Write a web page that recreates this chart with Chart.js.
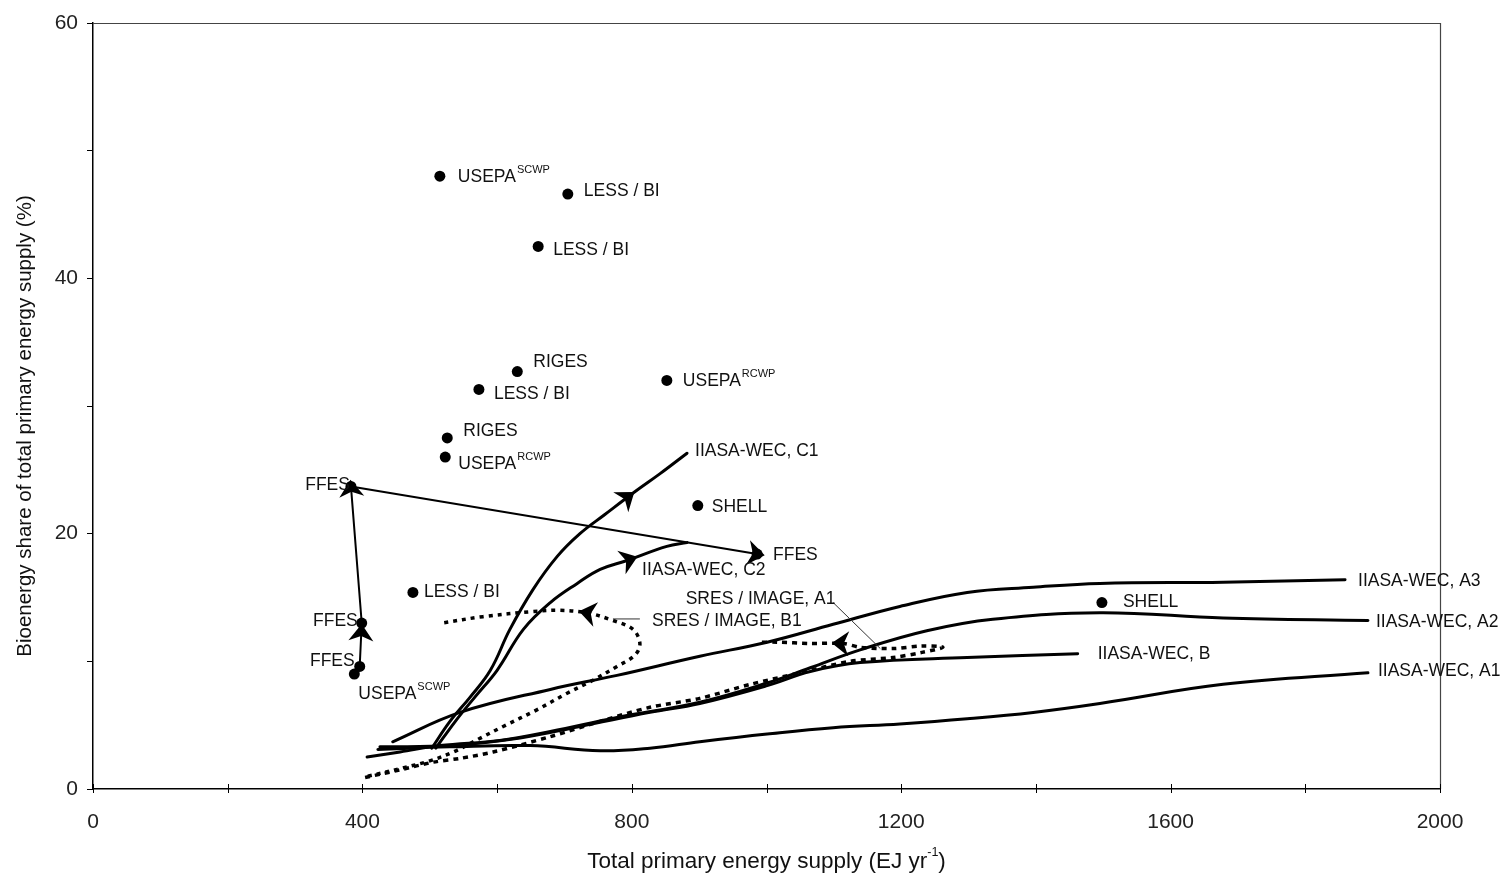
<!DOCTYPE html>
<html>
<head>
<meta charset="utf-8">
<script src="https://cdn.jsdelivr.net/npm/chart.js@4.4.1/dist/chart.umd.min.js"></script>
<style>
  html, body { margin: 0; padding: 0; background: #fff; }
  #wrap { width: 1503px; height: 875px; position: relative; }
</style>
</head>
<body>
<div id="wrap"><canvas id="chart" width="1503" height="875"></canvas></div>
<script>
// ---- Scenario results: total primary energy supply (EJ/yr) vs bioenergy share (%) ----
const pointNames  = ['USEPA', 'LESS / BI', 'LESS / BI', 'RIGES', 'LESS / BI', 'USEPA', 'RIGES', 'USEPA',
                     'SHELL', 'FFES', 'FFES', 'LESS / BI', 'FFES', 'FFES', 'USEPA', 'SHELL'];
const pointSup    = ['SCWP', '', '', '', '', 'RCWP', '', 'RCWP', '', '', '', '', '', '', 'SCWP', ''];
const pointSupply = [515, 705, 661, 630, 573, 852, 526, 523, 898, 383, 986, 475, 399, 396, 388, 1498];
const pointShare  = [48.0, 46.6, 42.5, 32.7, 31.3, 32.0, 27.5, 26.0, 22.2, 23.7, 18.4, 15.4, 13.0, 9.6, 9.0, 14.6];

// FFES pathway
const ffesSupply = [396, 399, 383, 986];
const ffesShare  = [9.6, 13.0, 23.7, 18.4];

// IIASA-WEC pathways
const c1Supply = [503, 530, 560, 590, 619, 653, 689, 723, 760, 805, 842, 882];
const c1Share  = [3.2, 5.3, 7.2, 9.3, 12.5, 15.6, 18.2, 20.0, 21.5, 23.3, 24.7, 26.3];
const c2Supply = [509, 538, 567, 600, 639, 679, 719, 753, 793, 852, 882];
const c2Share  = [3.2, 5.3, 7.2, 9.3, 12.5, 14.6, 16.1, 17.2, 17.9, 19.0, 19.3];
const a3Supply = [445, 545, 679, 778, 901, 1001, 1099, 1198, 1298, 1396, 1495, 1678, 1859];
const a3Share  = [3.7, 6.0, 7.8, 8.9, 10.4, 11.5, 12.9, 14.3, 15.4, 15.8, 16.1, 16.2, 16.4];
const a2Supply = [407, 456, 515, 604, 679, 778, 901, 1001, 1065, 1139, 1238, 1336, 1495, 1678, 1893];
const a2Share  = [2.5, 2.9, 3.4, 3.8, 4.5, 5.6, 6.8, 8.3, 9.5, 10.9, 12.4, 13.3, 13.8, 13.4, 13.2];
const bSupply  = [426, 530, 634, 723, 827, 901, 1001, 1065, 1139, 1298, 1462];
const bShare   = [3.3, 3.4, 4.0, 4.9, 6.0, 6.7, 8.1, 9.2, 9.9, 10.3, 10.6];
const a1Supply = [423, 530, 649, 753, 827, 901, 1001, 1099, 1198, 1298, 1396, 1495, 1678, 1893];
const a1Share  = [3.1, 3.3, 3.4, 3.0, 3.2, 3.7, 4.3, 4.8, 5.1, 5.5, 6.0, 6.7, 8.2, 9.1];

// SRES / IMAGE pathways
const sresA1Supply = [404, 456, 505, 545, 594, 679, 753, 827, 901, 976, 1050, 1124, 1188, 1231, 1262, 1231, 1188, 1139, 1114, 1065, 1016, 986];
const sresA1Share  = [0.9, 1.5, 2.1, 2.4, 2.9, 4.1, 5.3, 6.4, 7.1, 8.2, 9.1, 10.0, 10.3, 10.7, 11.1, 11.2, 11.0, 11.1, 11.4, 11.4, 11.5, 11.5];
const sresB1Supply = [408, 456, 500, 535, 572, 609, 659, 704, 738, 778, 805, 812, 802, 772, 734, 693, 653, 579, 518];
const sresB1Share  = [1.0, 1.6, 2.2, 2.9, 3.9, 4.9, 6.2, 7.5, 8.4, 9.6, 10.5, 11.4, 12.5, 13.2, 13.8, 14.0, 13.9, 13.5, 13.0];

// Axis ticks
const xTicks = [0, 400, 800, 1200, 1600, 2000];
const yTicks = [0, 20, 40, 60];

// Curve end labels
const curveLabels = {
  c1: 'IIASA-WEC, C1', c2: 'IIASA-WEC, C2', a3: 'IIASA-WEC, A3',
  a2: 'IIASA-WEC, A2', b: 'IIASA-WEC, B', a1: 'IIASA-WEC, A1'
};
const sresLabels = { sa1: 'SRES / IMAGE, A1', sb1: 'SRES / IMAGE, B1' };

// ---- styling / placement ----
const FONT = "'Liberation Sans', Arial, Helvetica, sans-serif";
const LABEL_FONT = '17.5px ' + FONT;
const SUP_FONT = '11px ' + FONT;
const INK = '#111';

// label offsets from the marker, in pixels: [dx, dy, align]
const pointLabelOffsets = [
  [18, 1, 'left'], [16, -3, 'left'], [15, 4, 'left'], [16, -9, 'left'], [15, 5, 'left'],
  [16, 1, 'left'], [16, -7, 'left'], [13, 7, 'left'], [14, 2, 'left'], [-1, -1, 'right'],
  [16, 1, 'left'], [11, 0, 'left'], [-4, -2, 'right'], [-5, -5, 'right'], [4, 20, 'left'], [21, 0, 'left']
];
// curve label offsets from the curve's last point
const curveLabelOffsets = {
  c1: [8, -2], c2: [-45, 28], a3: [13, 2], a2: [8, 2], b: [20, 0], a1: [10, -2]
};
// SRES labels: text anchor and leader line, in data units
const sresLabelAnchors = {
  sa1: { text: [880, 14.88], leader: [[1099, 14.6], [1169, 11.0]] },
  sb1: { text: [830, 13.16], leader: [[772, 13.32], [812, 13.32]] }
};
// arrowheads: dataset key, segment index, position along segment
const arrowMarks = [
  { key: 'ffes', seg: 0, t: 0.70 }, { key: 'ffes', seg: 1, t: 0.93 }, { key: 'ffes', seg: 2, t: 0.975 },
  { key: 'c1', seg: 8, t: 0.77 }, { key: 'c2', seg: 8, t: 0.05 },
  { key: 'sb1', seg: 14, t: 0.0 }, { key: 'sa1', seg: 18, t: 0.1 }
];

function xy(xs, ys) { return xs.map((x, i) => ({ x: x, y: ys[i] })); }

function curve(key, xs, ys, extra) {
  return Object.assign({
    key: key, data: xy(xs, ys), showLine: true, pointRadius: 0, pointHoverRadius: 0,
    borderColor: '#000', borderWidth: 3, tension: 0.4, fill: false,
    borderCapStyle: 'round', borderJoinStyle: 'round'
  }, extra || {});
}

const datasets = [
  { key: 'points', data: xy(pointSupply, pointShare), showLine: false, pointRadius: 5.5,
    pointBackgroundColor: '#000', pointBorderColor: '#000', pointBorderWidth: 0 },
  curve('ffes', ffesSupply, ffesShare, { tension: 0, borderWidth: 2 }),
  curve('c1', c1Supply, c1Share),
  curve('c2', c2Supply, c2Share),
  curve('a3', a3Supply, a3Share),
  curve('a2', a2Supply, a2Share),
  curve('b', bSupply, bShare),
  curve('a1', a1Supply, a1Share),
  curve('sa1', sresA1Supply, sresA1Share, { borderDash: [5, 5], borderWidth: 3.5, borderCapStyle: 'butt', tension: 0.3 }),
  curve('sb1', sresB1Supply, sresB1Share, { borderDash: [4, 5], borderWidth: 3.5, borderCapStyle: 'butt', tension: 0.35 })
];

function datasetByKey(chart, key) {
  const i = chart.data.datasets.findIndex(d => d.key === key);
  return chart.getDatasetMeta(i);
}

function bezierAt(a, b, t) {
  const p0x = a.x, p0y = a.y, p3x = b.x, p3y = b.y;
  const p1x = a.cp2x !== undefined ? a.cp2x : a.x, p1y = a.cp2y !== undefined ? a.cp2y : a.y;
  const p2x = b.cp1x !== undefined ? b.cp1x : b.x, p2y = b.cp1y !== undefined ? b.cp1y : b.y;
  const u = 1 - t;
  const x = u*u*u*p0x + 3*u*u*t*p1x + 3*u*t*t*p2x + t*t*t*p3x;
  const y = u*u*u*p0y + 3*u*u*t*p1y + 3*u*t*t*p2y + t*t*t*p3y;
  let dx = 3*u*u*(p1x-p0x) + 6*u*t*(p2x-p1x) + 3*t*t*(p3x-p2x);
  let dy = 3*u*u*(p1y-p0y) + 6*u*t*(p2y-p1y) + 3*t*t*(p3y-p2y);
  if (Math.abs(dx) + Math.abs(dy) < 1e-6) { dx = p3x - p0x; dy = p3y - p0y; }
  return { x, y, angle: Math.atan2(dy, dx) };
}

function drawArrow(ctx, x, y, angle) {
  const L = 17, W = 25, notch = 5;
  ctx.save();
  ctx.translate(x, y);
  ctx.rotate(angle);
  ctx.beginPath();
  ctx.moveTo(L / 2, 0);
  ctx.lineTo(-L / 2, -W / 2);
  ctx.lineTo(-L / 2 + notch, 0);
  ctx.lineTo(-L / 2, W / 2);
  ctx.closePath();
  ctx.fillStyle = '#000';
  ctx.fill();
  ctx.restore();
}

function drawText(ctx, text, sup, x, y, align) {
  ctx.font = LABEL_FONT;
  const w = ctx.measureText(text).width;
  ctx.font = SUP_FONT;
  const sw = sup ? ctx.measureText(sup).width + 1 : 0;
  const x0 = align === 'right' ? x - w - sw : x;
  ctx.textAlign = 'left';
  ctx.textBaseline = 'middle';
  ctx.fillStyle = INK;
  ctx.font = LABEL_FONT;
  ctx.fillText(text, x0, y);
  if (sup) {
    ctx.font = SUP_FONT;
    ctx.fillText(sup, x0 + w + 1, y - 7);
  }
}

const annotationPlugin = {
  id: 'annotations',
  beforeDatasetsDraw(chart) {
    const { ctx, chartArea: a } = chart;
    ctx.save();
    // frame on the top and right
    ctx.strokeStyle = '#444';
    ctx.lineWidth = 1.2;
    ctx.beginPath();
    ctx.moveTo(a.left, a.top + 0.5); ctx.lineTo(a.right, a.top + 0.5);
    ctx.moveTo(a.right + 0.5, a.top); ctx.lineTo(a.right + 0.5, a.bottom);
    ctx.stroke();
    ctx.restore();
  },
  afterDatasetsDraw(chart) {
    const { ctx, scales: { x: sx, y: sy }, chartArea: a } = chart;
    ctx.save();

    // x tick marks crossing the axis line
    ctx.strokeStyle = '#000';
    ctx.lineWidth = 1;
    ctx.beginPath();
    for (let v = 0; v <= 2000; v += 200) {
      const px = Math.round(sx.getPixelForValue(v)) + 0.5;
      ctx.moveTo(px, a.bottom - 5); ctx.lineTo(px, a.bottom + 4);
    }
    ctx.stroke();

    // arrowheads along pathways
    arrowMarks.forEach(m => {
      const meta = datasetByKey(chart, m.key);
      const p = bezierAt(meta.data[m.seg], meta.data[m.seg + 1], m.t);
      drawArrow(ctx, p.x, p.y, p.angle);
    });

    // point labels
    pointNames.forEach((name, i) => {
      const px = sx.getPixelForValue(pointSupply[i]);
      const py = sy.getPixelForValue(pointShare[i]);
      const o = pointLabelOffsets[i];
      drawText(ctx, name, pointSup[i], px + o[0], py + o[1], o[2]);
    });

    // curve labels at the end of each pathway
    Object.keys(curveLabels).forEach(k => {
      const meta = datasetByKey(chart, k);
      const last = meta.data[meta.data.length - 1];
      const o = curveLabelOffsets[k];
      drawText(ctx, curveLabels[k], '', last.x + o[0], last.y + o[1], 'left');
    });

    // SRES labels with leader lines
    Object.keys(sresLabels).forEach(k => {
      const an = sresLabelAnchors[k];
      ctx.strokeStyle = '#333';
      ctx.lineWidth = 1;
      ctx.beginPath();
      ctx.moveTo(sx.getPixelForValue(an.leader[0][0]), sy.getPixelForValue(an.leader[0][1]));
      ctx.lineTo(sx.getPixelForValue(an.leader[1][0]), sy.getPixelForValue(an.leader[1][1]));
      ctx.stroke();
      drawText(ctx, sresLabels[k], '', sx.getPixelForValue(an.text[0]), sy.getPixelForValue(an.text[1]), 'left');
    });
    ctx.restore();
  },
  afterDraw(chart) {
    const { ctx, chartArea: a } = chart;
    ctx.save();
    ctx.fillStyle = INK;
    ctx.textBaseline = 'middle';
    // x axis title with superscript unit
    const main = 'Total primary energy supply (EJ yr';
    const titleFont = '22.5px ' + FONT;
    const supFont = '12.5px ' + FONT;
    ctx.font = titleFont;
    const w1 = ctx.measureText(main).width;
    ctx.font = supFont;
    const w2 = ctx.measureText('-1').width;
    ctx.font = titleFont;
    const w3 = ctx.measureText(')').width;
    const total = w1 + w2 + w3;
    let x0 = (a.left + a.right) / 2 - total / 2;
    const ty = 862;
    ctx.textAlign = 'left';
    ctx.fillText(main, x0, ty);
    ctx.font = supFont;
    ctx.fillText('-1', x0 + w1, ty - 9);
    ctx.font = titleFont;
    ctx.fillText(')', x0 + w1 + w2, ty);

    // y axis title
    ctx.translate(25, (a.top + a.bottom) / 2 + 20);
    ctx.rotate(-Math.PI / 2);
    ctx.textAlign = 'center';
    ctx.font = '20.5px ' + FONT;
    ctx.fillText('Bioenergy share of total primary energy supply (%)', 0, 0);
    ctx.restore();
  }
};

new Chart(document.getElementById('chart'), {
  type: 'scatter',
  data: { datasets: datasets },
  plugins: [annotationPlugin],
  options: {
    responsive: false,
    animation: false,
    events: [],
    layout: { padding: { left: 0, right: 63, top: 23, bottom: 0 } },
    plugins: { legend: { display: false }, tooltip: { enabled: false }, title: { display: false } },
    scales: {
      x: {
        type: 'linear', min: 0, max: 2000,
        afterFit: s => { s.height = 86; },
        afterBuildTicks: s => { s.ticks = xTicks.map(v => ({ value: v })); },
        ticks: { autoSkip: false, maxRotation: 0, padding: 21, color: '#222',
                 font: { family: FONT, size: 21 },
                 callback: v => String(v) },
        grid: { display: true, drawOnChartArea: false, drawTicks: false },
        border: { display: true, color: '#000', width: 1.5 }
      },
      y: {
        type: 'linear', min: 0, max: 60,
        afterFit: s => { s.width = 93; },
        ticks: { stepSize: 10, autoSkip: false, padding: 9, color: '#222',
                 font: { family: FONT, size: 21 },
                 callback: v => (yTicks.includes(v) ? String(v) : '') },
        grid: { display: true, drawOnChartArea: false, drawTicks: true, tickLength: 6, color: '#000', lineWidth: 1 },
        border: { display: true, color: '#000', width: 1.5 }
      }
    }
  }
});
</script>
</body>
</html>
